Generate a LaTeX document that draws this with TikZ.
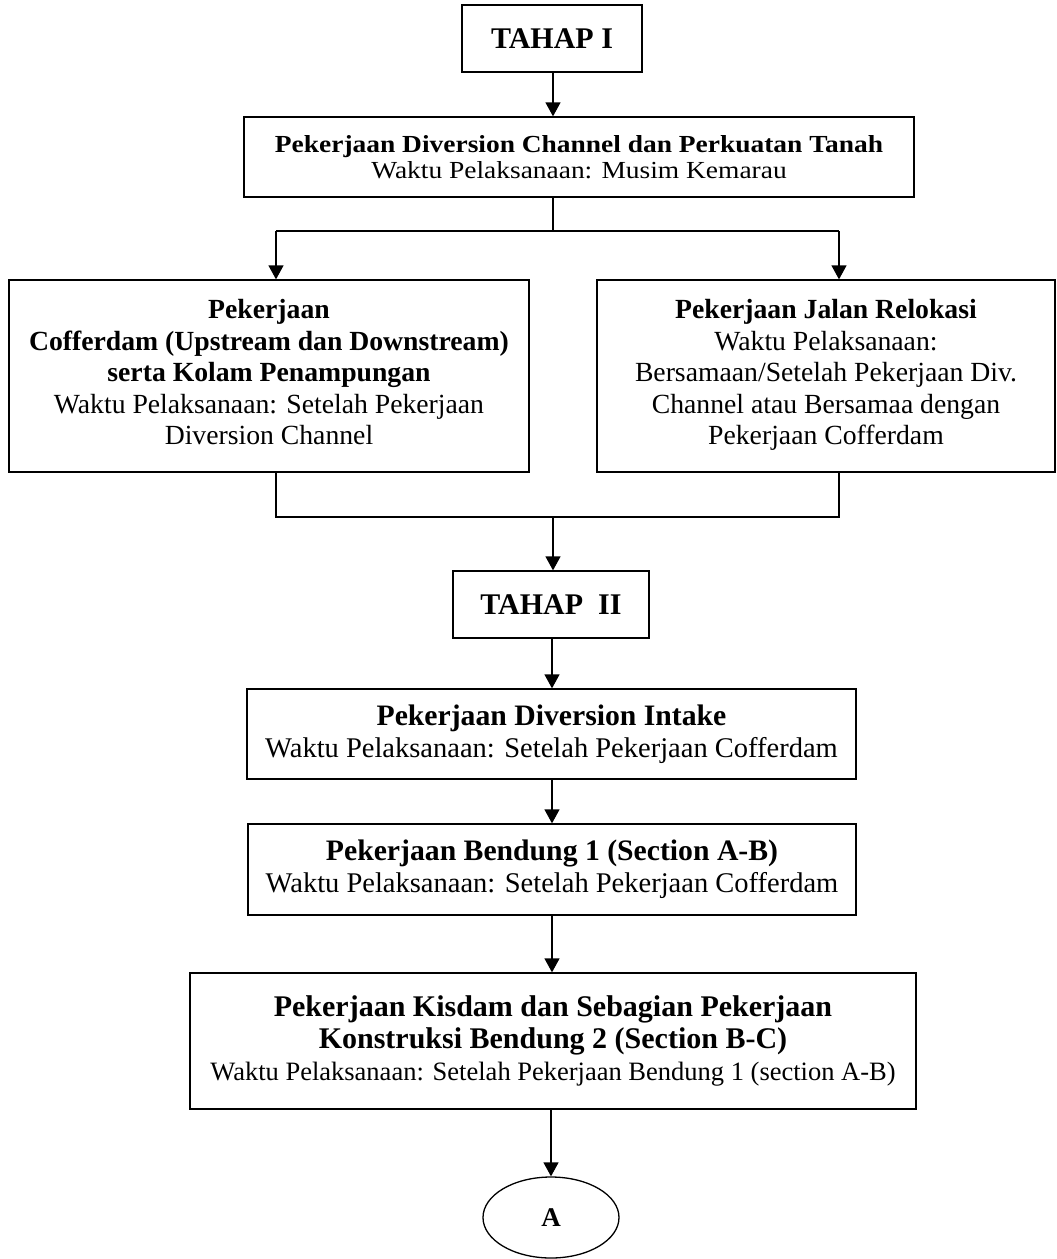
\documentclass[tikz,border=0pt]{standalone}
\usepackage{fontspec}
\setmainfont{Liberation Serif}
\newfontfamily\widefont{Liberation Serif}[FakeStretch=1.12]
\usetikzlibrary{arrows.meta,shapes.geometric}
\newcommand{\fs}[2]{\fontsize{#1}{#2}\selectfont}
\begin{document}
\begin{tikzpicture}[x=1pt,y=-1pt,
  box/.style={draw, line width=1.3pt, inner sep=0pt, align=center, rectangle},
  conn/.style={line width=1.3pt},
  arr/.style={line width=1.3pt, -{Triangle[length=14pt,width=15pt]}}]
\useasboundingbox (0,0) rectangle (1057,1259);
\node[box, minimum width=180pt, minimum height=67pt, font=\fs{30}{34}\bfseries] (t1) at (552,38.5) {TAHAP I};
\node[box, minimum width=670pt, minimum height=80pt, font=\widefont\fs{24.5}{25.5}] (b1) at (579,157)
  {\textbf{Pekerjaan Diversion Channel dan Perkuatan Tanah}\\Waktu Pelaksanaan: Musim Kemarau};
\node[box, minimum width=520pt, minimum height=192pt, font=\fs{27.7}{31.5}] (L) at (269,376)
  {\textbf{Pekerjaan}\\\textbf{Cofferdam (Upstream dan Downstream)}\\\textbf{serta Kolam Penampungan}\\Waktu Pelaksanaan: Setelah Pekerjaan\\Diversion Channel\rule[-8pt]{0pt}{8pt}};
\node[box, minimum width=458pt, minimum height=192pt, font=\fs{27.7}{31.5}] (R) at (826,376)
  {\textbf{Pekerjaan Jalan Relokasi}\\Waktu Pelaksanaan:\\Bersamaan/Setelah Pekerjaan Div.\\Channel atau Bersamaa dengan\\Pekerjaan Cofferdam\rule[-8pt]{0pt}{8pt}};
\node[box, minimum width=196pt, minimum height=67pt, font=\fs{30}{34}\bfseries] (t2) at (551,604.5) {TAHAP\ \ II};
\node[box, minimum width=609pt, minimum height=90pt, font=\fs{28.5}{32}] (d) at (551.5,734)
  {{\fs{29.7}{32}\bfseries Pekerjaan Diversion Intake}\\Waktu Pelaksanaan: Setelah Pekerjaan Cofferdam};
\node[box, minimum width=608pt, minimum height=91pt, font=\fs{28.5}{32}] (e) at (552,869.5)
  {{\fs{29.7}{32}\bfseries Pekerjaan Bendung 1 (Section A-B)}\\Waktu Pelaksanaan: Setelah Pekerjaan Cofferdam};
\node[box, minimum width=726pt, minimum height=136pt, font=\fs{26.5}{32}] (k) at (553,1041)
  {{\fs{30}{32}\bfseries Pekerjaan Kisdam dan Sebagian Pekerjaan}\\{\fs{30}{32}\bfseries Konstruksi Bendung 2 (Section B-C)}\\Waktu Pelaksanaan: Setelah Pekerjaan Bendung 1 (section A-B)};
\node[draw, line width=1.3pt, ellipse, minimum width=136pt, minimum height=81pt, inner sep=0pt, font=\fs{27}{30}\bfseries] (A) at (551,1217.5) {A};
% connectors
\coordinate (c1) at (553,0);
\draw[arr] (t1.south -| c1) -- (b1.north -| c1);
\coordinate (j) at (553,231);
\coordinate (jl) at (276,231);
\coordinate (jr) at (839,231);
\draw[conn] (b1.south -| j) -- (j);
\draw[conn] (jl) -- (jr);
\draw[arr] (jl) -- (jl |- L.north);
\draw[arr] (jr) -- (jr |- R.north);
\coordinate (kl) at (276,517);
\coordinate (kr) at (839,517);
\coordinate (km) at (553,517);
\draw[conn] (L.south -| kl) -- (kl) -- (kr) -- (R.south -| kr);
\draw[arr] (km) -- (km |- t2.north);
\coordinate (c2) at (552,0);
\draw[arr] (t2.south -| c2) -- (d.north -| c2);
\draw[arr] (d.south -| c2) -- (e.north -| c2);
\draw[arr] (e.south -| c2) -- (k.north -| c2);
\draw[arr] (k.south -| A) -- (A.north);
\end{tikzpicture}
\end{document}
